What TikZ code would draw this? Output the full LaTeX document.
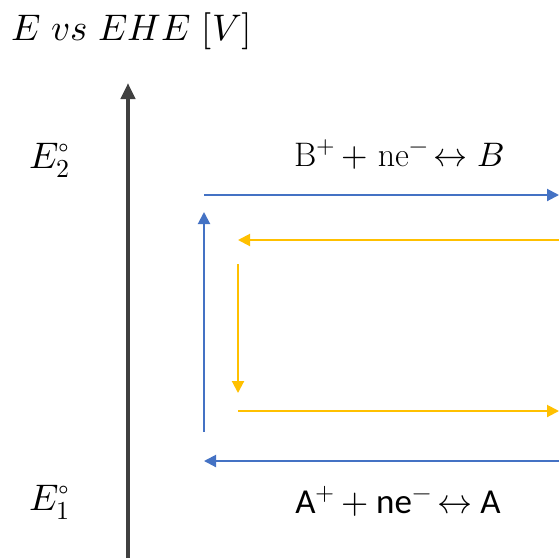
\documentclass[tikz,border=0pt]{standalone}
\usepackage{fontspec}
\usepackage{unicode-math}
\setmathfont{Latin Modern Math}
\newfontfamily\carlito{Carlito}
\usetikzlibrary{arrows.meta}
\definecolor{axisgray}{HTML}{404040}
\definecolor{cblue}{HTML}{4472C4}
\definecolor{cyellow}{HTML}{FFC000}
\tikzset{
  axisline/.style={draw=axisgray, line width=4pt, -{Triangle[length=16pt,width=14pt]}},
  bluearrow/.style={draw=cblue, line width=2pt, -{Triangle[length=12pt,width=12pt]}},
  yellowarrow/.style={draw=cyellow, line width=2pt, -{Triangle[length=12pt,width=12pt]}},
  bigmath/.style={inner sep=0pt, font=\fontsize{37}{40}\selectfont},
  eqserif/.style={inner sep=0pt, font=\fontsize{34}{38}\selectfont},
  eqsans/.style={inner sep=0pt, font=\carlito\fontsize{35}{38}\selectfont}
}
\begin{document}
\begin{tikzpicture}[x=1pt,y=-1pt]
\useasboundingbox (0,0) rectangle (559,558);
% title
\node[bigmath, anchor=base west] (title) at (11,40) {$E\ vs\ EHE\ [V]$};
% axis
\coordinate (axbot) at (128,558);
\coordinate (axtop) at (128,83);
\draw[axisline] (axbot) -- (axtop);
% level labels
\node[bigmath, anchor=base west] (e2) at (29,168) {$E_2^\circ$};
\node[bigmath, anchor=base west] (e1) at (29,510) {$E_1^\circ$};
% equations
\node[eqserif, anchor=base] (eqB) at (399,166) {B$^+$\,$+$ ne$^-$\,$\leftrightarrow B$};
\node[eqsans, anchor=base] (eqA) at (398,513) {A$^+$\,$+$ ne$^-$\,$\leftrightarrow$ A};
% blue cycle
\coordinate (b1) at (204,195);
\coordinate (b2) at (559,195);
\coordinate (b3) at (559,461);
\coordinate (b4) at (204,461);
\coordinate (b5) at (204,432);
\coordinate (b6) at (204,212);
\draw[bluearrow] (b1) -- (b2);
\draw[bluearrow] (b3) -- (b4);
\draw[bluearrow] (b5) -- (b6);
% yellow cycle
\coordinate (y1) at (559,240);
\coordinate (y2) at (238,240);
\coordinate (y3) at (238,264);
\coordinate (y4) at (238,393);
\coordinate (y5) at (238,411);
\coordinate (y6) at (559,411);
\draw[yellowarrow] (y1) -- (y2);
\draw[yellowarrow] (y3) -- (y4);
\draw[yellowarrow] (y5) -- (y6);
\end{tikzpicture}
\end{document}
